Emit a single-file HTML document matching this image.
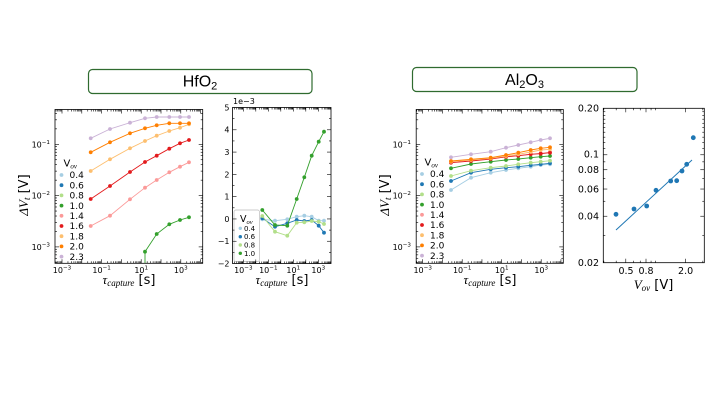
<!DOCTYPE html>
<html><head><meta charset="utf-8"><style>
html,body{margin:0;padding:0;background:#fff;}
svg{display:block;}
text{font-family:"DejaVu Sans","Liberation Sans",sans-serif;fill:#000;}
.m{font-family:"Liberation Serif","DejaVu Serif",serif;font-style:italic;}
</style></head><body>
<svg width="720" height="405" viewBox="0 0 720 405" xmlns="http://www.w3.org/2000/svg">
<defs>
<marker id="k1" markerUnits="userSpaceOnUse" markerWidth="6" markerHeight="6" refX="3" refY="3" viewBox="0 0 6 6"><circle cx="3" cy="3" r="1.9" fill="#a6cee3"/></marker>
<marker id="k2" markerUnits="userSpaceOnUse" markerWidth="6" markerHeight="6" refX="3" refY="3" viewBox="0 0 6 6"><circle cx="3" cy="3" r="1.9" fill="#1f78b4"/></marker>
<marker id="k3" markerUnits="userSpaceOnUse" markerWidth="6" markerHeight="6" refX="3" refY="3" viewBox="0 0 6 6"><circle cx="3" cy="3" r="1.9" fill="#b2df8a"/></marker>
<marker id="k4" markerUnits="userSpaceOnUse" markerWidth="6" markerHeight="6" refX="3" refY="3" viewBox="0 0 6 6"><circle cx="3" cy="3" r="1.9" fill="#33a02c"/></marker>
<marker id="k5" markerUnits="userSpaceOnUse" markerWidth="6" markerHeight="6" refX="3" refY="3" viewBox="0 0 6 6"><circle cx="3" cy="3" r="1.9" fill="#fb9a99"/></marker>
<marker id="k6" markerUnits="userSpaceOnUse" markerWidth="6" markerHeight="6" refX="3" refY="3" viewBox="0 0 6 6"><circle cx="3" cy="3" r="1.9" fill="#e31a1c"/></marker>
<marker id="k7" markerUnits="userSpaceOnUse" markerWidth="6" markerHeight="6" refX="3" refY="3" viewBox="0 0 6 6"><circle cx="3" cy="3" r="1.9" fill="#fdbf6f"/></marker>
<marker id="k8" markerUnits="userSpaceOnUse" markerWidth="6" markerHeight="6" refX="3" refY="3" viewBox="0 0 6 6"><circle cx="3" cy="3" r="1.9" fill="#ff7f00"/></marker>
<marker id="k9" markerUnits="userSpaceOnUse" markerWidth="6" markerHeight="6" refX="3" refY="3" viewBox="0 0 6 6"><circle cx="3" cy="3" r="1.9" fill="#cab2d6"/></marker>
<clipPath id="cp1"><rect x="55" y="109.5" width="147.7" height="153.8"/></clipPath>
<clipPath id="cp2"><rect x="232.5" y="107.5" width="98.5" height="156"/></clipPath>
<clipPath id="cp3"><rect x="416.2" y="109.5" width="147.1" height="153.8"/></clipPath>
</defs>
<rect width="720" height="405" fill="#fff"/>

<!-- Title boxes -->
<rect x="88.5" y="69.5" width="223.5" height="24" rx="4" ry="4" fill="none" stroke="#2f6b2f" stroke-width="1.2"/>
<text x="200" y="86.5" text-anchor="middle" style="font-family:'Liberation Sans',sans-serif;font-size:16px">HfO<tspan font-size="11" dy="3">2</tspan></text>
<rect x="412.5" y="67.5" width="224.5" height="24" rx="4" ry="4" fill="none" stroke="#2f6b2f" stroke-width="1.2"/>
<text x="524.5" y="85" text-anchor="middle" style="font-family:'Liberation Sans',sans-serif;font-size:16px">Al<tspan font-size="11" dy="3">2</tspan><tspan dy="-3">O</tspan><tspan font-size="11" dy="3">3</tspan></text>

<!-- ===== Panel 1 ===== -->
<g clip-path="url(#cp1)" fill="none" stroke-width="0.9">
<line x1="145" y1="264" x2="145" y2="251.7" stroke="#33a02c"/>
<polyline stroke="#33a02c" points="145,251.7 156.7,234 169.3,224.3 180,220 189,217.3" marker-start="url(#k4)" marker-mid="url(#k4)" marker-end="url(#k4)"/>
<polyline stroke="#fb9a99" points="90.7,226 110,215.7 130,199.3 145,187.7 156.7,180 169.3,172.3 180,166.7 189,162.3" marker-start="url(#k5)" marker-mid="url(#k5)" marker-end="url(#k5)"/>
<polyline stroke="#e31a1c" points="90.7,199 110,186 130,172 145,162 156.7,155.7 169.3,148.7 180,143.3 189,140" marker-start="url(#k6)" marker-mid="url(#k6)" marker-end="url(#k6)"/>
<polyline stroke="#fdbf6f" points="90.7,171 110,159.3 130,148.3 145,141 156.7,135.7 169.3,131 180,127.7 189,124.3" marker-start="url(#k7)" marker-mid="url(#k7)" marker-end="url(#k7)"/>
<polyline stroke="#ff7f00" points="90.7,152.3 110,142.3 130,133.3 145,128.3 156.7,125.3 169.3,123.3 180,123.3 189,123.3" marker-start="url(#k8)" marker-mid="url(#k8)" marker-end="url(#k8)"/>
<polyline stroke="#cab2d6" points="90.7,138.3 110,129 130,122.7 145,118.3 156.7,117 169.3,117 180,117 189,117" marker-start="url(#k9)" marker-mid="url(#k9)" marker-end="url(#k9)"/>
</g>
<rect x="55" y="109.5" width="147.7" height="153.8" fill="none" stroke="#000" stroke-width="0.8"/>
<g font-size="8" text-anchor="end">
<text x="50" y="147.3">10<tspan dy="-3.5" font-size="5.6">−1</tspan></text>
<text x="50" y="198.6">10<tspan dy="-3.5" font-size="5.6">−2</tspan></text>
<text x="50" y="249.9">10<tspan dy="-3.5" font-size="5.6">−3</tspan></text>
</g>
<g font-size="8" text-anchor="middle">
<text x="62" y="273">10<tspan dy="-3.5" font-size="5.6">−3</tspan></text>
<text x="101.6" y="273">10<tspan dy="-3.5" font-size="5.6">−1</tspan></text>
<text x="141.2" y="273">10<tspan dy="-3.5" font-size="5.6">1</tspan></text>
<text x="180.8" y="273">10<tspan dy="-3.5" font-size="5.6">3</tspan></text>
</g>
<text x="129" y="284" text-anchor="middle" font-size="13"><tspan class="m">τ</tspan><tspan class="m" font-size="9" dy="2">capture</tspan><tspan dy="-2"> [s]</tspan></text>
<text transform="translate(28,195) rotate(-90)" text-anchor="middle" font-size="13"><tspan class="m">ΔV</tspan><tspan class="m" font-size="9" dy="2">t</tspan><tspan dy="-2"> [V]</tspan></text>
<!-- legend 1 -->
<g font-size="9">
<text x="63.5" y="166.5" font-size="10">V<tspan class="m" font-size="7" dy="2">ov</tspan></text>
<circle cx="61.5" cy="175" r="1.9" fill="#a6cee3"/><text x="69.5" y="178.2">0.4</text>
<circle cx="61.5" cy="185.2" r="1.9" fill="#1f78b4"/><text x="69.5" y="188.4">0.6</text>
<circle cx="61.5" cy="195.4" r="1.9" fill="#b2df8a"/><text x="69.5" y="198.6">0.8</text>
<circle cx="61.5" cy="205.6" r="1.9" fill="#33a02c"/><text x="69.5" y="208.8">1.0</text>
<circle cx="61.5" cy="215.8" r="1.9" fill="#fb9a99"/><text x="69.5" y="219">1.4</text>
<circle cx="61.5" cy="226" r="1.9" fill="#e31a1c"/><text x="69.5" y="229.2">1.6</text>
<circle cx="61.5" cy="236.2" r="1.9" fill="#fdbf6f"/><text x="69.5" y="239.4">1.8</text>
<circle cx="61.5" cy="246.4" r="1.9" fill="#ff7f00"/><text x="69.5" y="249.6">2.0</text>
<circle cx="61.5" cy="256.6" r="1.9" fill="#cab2d6"/><text x="69.5" y="259.8">2.3</text>
</g>

<!-- ===== Panel 2 ===== -->
<g clip-path="url(#cp2)" fill="none" stroke-width="0.9">
<polyline stroke="#a6cee3" points="262.3,219.3 275,220.7 287.3,219.3 296.7,216.7 304.3,215.7 311.7,216.7 318.7,220.7 324,220.7" marker-start="url(#k1)" marker-mid="url(#k1)" marker-end="url(#k1)"/>
<polyline stroke="#1f78b4" points="262.3,218.3 275,226.7 287.3,223.3 296.7,220 304.3,221 311.7,220 318.7,225.7 324,232.7" marker-start="url(#k2)" marker-mid="url(#k2)" marker-end="url(#k2)"/>
<polyline stroke="#b2df8a" points="262.3,216 275,231.7 287.3,235.7 296.7,222.7 304.3,222.3 311.7,221 318.7,221.7 324,224" marker-start="url(#k3)" marker-mid="url(#k3)" marker-end="url(#k3)"/>
<polyline stroke="#33a02c" points="262.3,210 275,225 287.3,225.7 296.7,199 304.3,177.3 311.7,155.7 318.7,141.7 324,131.7" marker-start="url(#k4)" marker-mid="url(#k4)" marker-end="url(#k4)"/>
</g>
<rect x="232.5" y="107.5" width="98.5" height="156" fill="none" stroke="#000" stroke-width="0.8"/>
<g font-size="8" text-anchor="end">
<text x="229.5" y="110.4">5</text>
<text x="229.5" y="132.7">4</text>
<text x="229.5" y="155">3</text>
<text x="229.5" y="177.3">2</text>
<text x="229.5" y="199.5">1</text>
<text x="229.5" y="221.8">0</text>
<text x="229.5" y="244.1">−1</text>
<text x="229.5" y="266.4">−2</text>
</g>
<text x="233" y="104" font-size="8">1e−3</text>
<g font-size="8" text-anchor="middle">
<text x="243.3" y="273">10<tspan dy="-3.5" font-size="5.6">−3</tspan></text>
<text x="268.3" y="273">10<tspan dy="-3.5" font-size="5.6">−1</tspan></text>
<text x="293.3" y="273">10<tspan dy="-3.5" font-size="5.6">1</tspan></text>
<text x="318.3" y="273">10<tspan dy="-3.5" font-size="5.6">3</tspan></text>
</g>
<text x="282" y="284" text-anchor="middle" font-size="13"><tspan class="m">τ</tspan><tspan class="m" font-size="9" dy="2">capture</tspan><tspan dy="-2"> [s]</tspan></text>
<!-- legend 2 -->
<rect x="234" y="210" width="25.5" height="51.5" rx="2" fill="#fff" fill-opacity="0.9" stroke="#bbb" stroke-width="0.7"/>
<text x="240" y="222" font-size="9.5">V<tspan class="m" font-size="6.5" dy="2">ov</tspan></text>
<g font-size="7">
<circle cx="240.3" cy="228.3" r="1.7" fill="#a6cee3"/><text x="244" y="230.8">0.4</text>
<circle cx="240.3" cy="236.7" r="1.7" fill="#1f78b4"/><text x="244" y="239.2">0.6</text>
<circle cx="240.3" cy="245" r="1.7" fill="#b2df8a"/><text x="244" y="247.5">0.8</text>
<circle cx="240.3" cy="253.3" r="1.7" fill="#33a02c"/><text x="244" y="255.8">1.0</text>
</g>

<!-- ===== Panel 3 ===== -->
<g clip-path="url(#cp3)" fill="none" stroke-width="0.9">
<polyline stroke="#a6cee3" points="451,190 471,177.7 490.7,172.7 506,170 518.3,168.3 530.7,166.7 540.7,165 550,164.3" marker-start="url(#k1)" marker-mid="url(#k1)" marker-end="url(#k1)"/>
<polyline stroke="#1f78b4" points="451,181 471,172.7 490.7,169.3 506,167.7 518.3,166.7 530.7,165.3 540.7,164.3 550,163.3" marker-start="url(#k2)" marker-mid="url(#k2)" marker-end="url(#k2)"/>
<polyline stroke="#b2df8a" points="451,176 471,170.7 490.7,167.7 506,166 518.3,164.3 530.7,162.7 540.7,161.7 550,160.7" marker-start="url(#k3)" marker-mid="url(#k3)" marker-end="url(#k3)"/>
<polyline stroke="#33a02c" points="451,168.3 471,164 490.7,161.7 506,160 518.3,159 530.7,157.7 540.7,156.7 550,156" marker-start="url(#k4)" marker-mid="url(#k4)" marker-end="url(#k4)"/>
<polyline stroke="#fb9a99" points="451,161.7 471,160.3 490.7,158.7 506,157 518.3,155.7 530.7,154.3 540.7,153.3 550,152.3" marker-start="url(#k5)" marker-mid="url(#k5)" marker-end="url(#k5)"/>
<polyline stroke="#e31a1c" points="451,162.7 471,161 490.7,159 506,156.7 518.3,155.7 530.7,154.3 540.7,153.7 550,152.7" marker-start="url(#k6)" marker-mid="url(#k6)" marker-end="url(#k6)"/>
<polyline stroke="#fdbf6f" points="451,161.7 471,160 490.7,158.3 506,156 518.3,154.3 530.7,152 540.7,150 550,149.3" marker-start="url(#k7)" marker-mid="url(#k7)" marker-end="url(#k7)"/>
<polyline stroke="#ff7f00" points="451,161 471,159.3 490.7,157.7 506,155 518.3,152.7 530.7,150 540.7,148.3 550,147.3" marker-start="url(#k8)" marker-mid="url(#k8)" marker-end="url(#k8)"/>
<polyline stroke="#cab2d6" points="451,157.3 471,154.3 490.7,151.7 506,147.7 518.3,145 530.7,142.3 540.7,140 550,138.3" marker-start="url(#k9)" marker-mid="url(#k9)" marker-end="url(#k9)"/>
</g>
<rect x="416.2" y="109.5" width="147.1" height="153.8" fill="none" stroke="#000" stroke-width="0.8"/>
<g font-size="8" text-anchor="end">
<text x="411" y="147.3">10<tspan dy="-3.5" font-size="5.6">−1</tspan></text>
<text x="411" y="198.6">10<tspan dy="-3.5" font-size="5.6">−2</tspan></text>
<text x="411" y="249.9">10<tspan dy="-3.5" font-size="5.6">−3</tspan></text>
</g>
<g font-size="8" text-anchor="middle">
<text x="422.7" y="273">10<tspan dy="-3.5" font-size="5.6">−3</tspan></text>
<text x="462.2" y="273">10<tspan dy="-3.5" font-size="5.6">−1</tspan></text>
<text x="501.7" y="273">10<tspan dy="-3.5" font-size="5.6">1</tspan></text>
<text x="541.2" y="273">10<tspan dy="-3.5" font-size="5.6">3</tspan></text>
</g>
<text x="490" y="284" text-anchor="middle" font-size="13"><tspan class="m">τ</tspan><tspan class="m" font-size="9" dy="2">capture</tspan><tspan dy="-2"> [s]</tspan></text>
<text transform="translate(389,195) rotate(-90)" text-anchor="middle" font-size="13"><tspan class="m">ΔV</tspan><tspan class="m" font-size="9" dy="2">t</tspan><tspan dy="-2"> [V]</tspan></text>
<!-- legend 3 -->
<g font-size="9">
<text x="424.5" y="165.5" font-size="10">V<tspan class="m" font-size="7" dy="2">ov</tspan></text>
<circle cx="422" cy="174" r="1.9" fill="#a6cee3"/><text x="430" y="177.2">0.4</text>
<circle cx="422" cy="184.2" r="1.9" fill="#1f78b4"/><text x="430" y="187.4">0.6</text>
<circle cx="422" cy="194.4" r="1.9" fill="#b2df8a"/><text x="430" y="197.6">0.8</text>
<circle cx="422" cy="204.6" r="1.9" fill="#33a02c"/><text x="430" y="207.8">1.0</text>
<circle cx="422" cy="214.8" r="1.9" fill="#fb9a99"/><text x="430" y="218">1.4</text>
<circle cx="422" cy="225" r="1.9" fill="#e31a1c"/><text x="430" y="228.2">1.6</text>
<circle cx="422" cy="235.2" r="1.9" fill="#fdbf6f"/><text x="430" y="238.4">1.8</text>
<circle cx="422" cy="245.4" r="1.9" fill="#ff7f00"/><text x="430" y="248.6">2.0</text>
<circle cx="422" cy="255.6" r="1.9" fill="#cab2d6"/><text x="430" y="258.8">2.3</text>
</g>

<!-- ===== Panel 4 ===== -->
<line x1="616" y1="230" x2="692" y2="160" stroke="#1f77b4" stroke-width="1"/>
<g fill="#1f77b4">
<circle cx="616" cy="214.3" r="2.4"/>
<circle cx="634" cy="209" r="2.4"/>
<circle cx="646.7" cy="206" r="2.4"/>
<circle cx="656" cy="190.3" r="2.4"/>
<circle cx="670.7" cy="181" r="2.4"/>
<circle cx="676.7" cy="180.7" r="2.4"/>
<circle cx="682" cy="171" r="2.4"/>
<circle cx="686.7" cy="164.3" r="2.4"/>
<circle cx="693.3" cy="137.7" r="2.4"/>
</g>
<rect x="603.3" y="108.3" width="101" height="154.4" fill="none" stroke="#000" stroke-width="0.8"/>
<g font-size="9.5" text-anchor="end">
<text x="599" y="111.6">0.20</text>
<text x="599" y="157.6">0.1</text>
<text x="599" y="173">0.08</text>
<text x="599" y="192.3">0.06</text>
<text x="599" y="219.5">0.04</text>
<text x="599" y="266">0.02</text>
</g>
<g font-size="9.5" text-anchor="middle">
<text x="626" y="274">0.5</text>
<text x="646" y="274">0.8</text>
<text x="685.6" y="274">2.0</text>
</g>
<text x="653.5" y="289" text-anchor="middle" font-size="13"><tspan class="m">V</tspan><tspan class="m" font-size="9" dy="2">ov</tspan><tspan dy="-2"> [V]</tspan></text>

<g id="ticks" stroke="#000" stroke-width="0.6"></g>
</svg>
<script>
(function(){
var s='';
function L(a,b,c,d){s+='<line x1="'+a+'" y1="'+b+'" x2="'+c+'" y2="'+d+'"/>';}
function logAxisY(x0,x1,y0,y1,pos){
  for(var d=-6;d<=6;d++)for(var k=1;k<=9;k++){
    var y=pos(d+Math.log10(k)); if(y<y0+0.5||y>y1-0.5)continue;
    var l=k==1?4:2; L(x0,y,x0+l,y); L(x1,y,x1-l,y);
  }
}
function logAxisX(x0,x1,y0,y1,pos){
  for(var d=-6;d<=6;d++)for(var k=1;k<=9;k++){
    var x=pos(d+Math.log10(k)); if(x<x0+0.5||x>x1-0.5)continue;
    var l=k==1?4:2; L(x,y1,x,y1-l); L(x,y0,x,y0+l);
  }
}
// panel 1
logAxisY(55,202.7,109.5,263.3,function(v){return 144.3+(-1-v)*51.3;});
logAxisX(55,202.7,109.5,263.3,function(v){return 62+(v+3)*19.8;});
// panel 2
for(var v=-2;v<=5;v++){var y=107.5+(5-v)*22.29; if(y>108&&y<263){L(232.5,y,236.5,y);L(331,y,327,y);}}
for(var v=-2;v<=5;v+=0.5){var y=107.5+(5-v)*22.29; if(y>108&&y<263&&v%1!=0){L(232.5,y,234.5,y);L(331,y,329,y);}}
logAxisX(232.5,331,107.5,263.5,function(v){return 243.3+(v+3)*12.5;});
// panel 3
logAxisY(416.2,563.3,109.5,263.3,function(v){return 144.3+(-1-v)*51.3;});
logAxisX(416.2,563.3,109.5,263.3,function(v){return 422.7+(v+3)*19.75;});
// panel 4
var maj={2:1,4:1,6:1,8:1,10:1,20:1};
for(var i=2;i<=20;i++){var val=i/100;var y=262.7-154.4*Math.log10(val/0.02);
  if(y<108.8||y>262.2)continue; var l=maj[i]?4:2; L(603.3,y,603.3+l,y); L(704.3,y,704.3-l,y);}
var xs=[0.3,0.4,0.5,0.6,0.7,0.8,0.9,1,2,3];
for(var j=0;j<xs.length;j++){var x=646+99*Math.log10(xs[j]/0.8);
  if(x<603.8||x>703.8)continue; var l=(xs[j]==0.5||xs[j]==0.8||xs[j]==2)?4:2; L(x,262.7,x,262.7-l); L(x,108.3,x,108.3+l);}
document.getElementById('ticks').innerHTML=s;
})();
</script>
</body></html>
